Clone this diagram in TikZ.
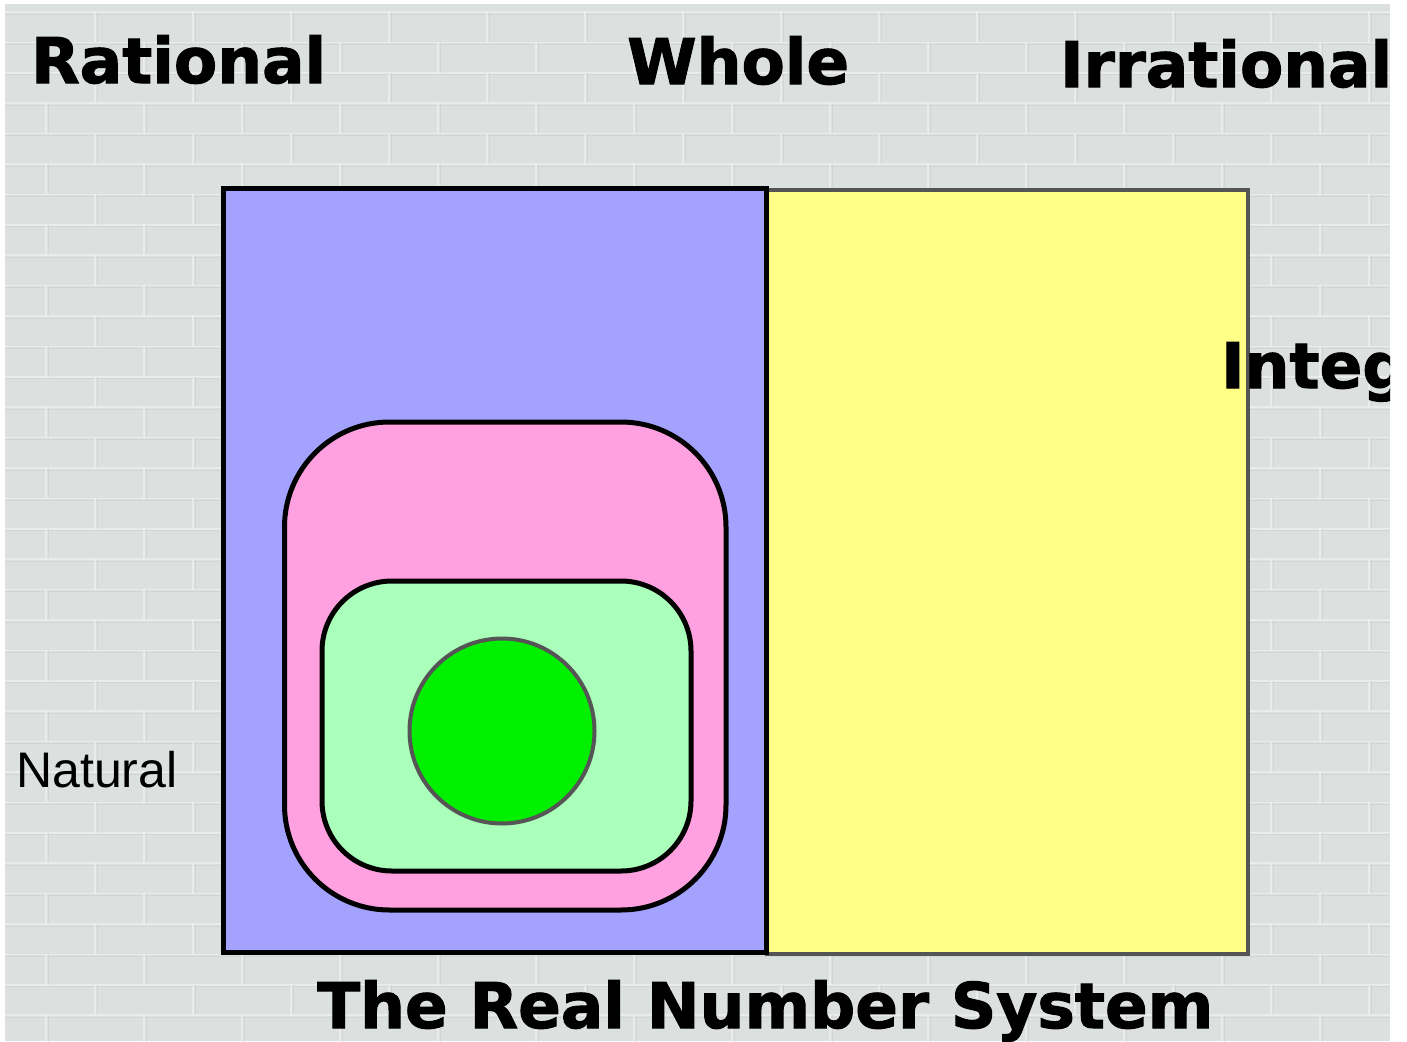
\documentclass[tikz,border=0pt]{standalone}
\usepackage{fontspec}
\newfontfamily\heavyfont{DejaVu Sans}[BoldFeatures={FakeBold=1.6}]
\newfontfamily\plainfont{Liberation Sans}
\definecolor{wallgray}{HTML}{DCE0DF}
\definecolor{mortarlight}{HTML}{F2F4F3}
\definecolor{mortardark}{HTML}{C4C8C7}
\definecolor{blu}{HTML}{A3A3FF}
\definecolor{yel}{HTML}{FFFF88}
\definecolor{pnk}{HTML}{FFA0E0}
\definecolor{lgreen}{HTML}{AAFFBB}
\definecolor{grn}{HTML}{00F000}
\definecolor{edgegray}{HTML}{555555}
\tikzset{
  headline/.style={font=\heavyfont\bfseries\fontsize{63}{70}\selectfont, inner sep=0pt, anchor=base west, text=black},
  smalllabel/.style={font=\plainfont\fontsize{50}{57}\selectfont, inner sep=0pt, anchor=base west, text=black},
  mortar/.style={draw=mortarlight, line width=1.6pt, opacity=0.6},
  mortarshade/.style={draw=mortardark, line width=0.8pt, opacity=0.4},
  region/.style={draw=black, line width=5pt},
}
\begin{document}
\begin{tikzpicture}[x=1pt,y=-1pt]
\useasboundingbox (0,0) rectangle (1407,1041);
\fill[white] (0,0) rectangle (1407,1041);
\begin{scope}
  \clip (5,4) rectangle (1390,1041);
  \fill[wallgray] (5,4) rectangle (1390,1041);
  % brick mortar lines
  \foreach \r in {0,...,34} {
    \pgfmathsetmacro\yy{12+30.4*\r}
    \pgfmathsetmacro\yb{\yy+30.4}
    \pgfmathsetmacro\off{95-49*mod(\r,2)}
    \draw[mortarshade] (5,\yy+2) -- (1390,\yy+2);
    \draw[mortar] (5,\yy) -- (1390,\yy);
    \foreach \c in {-1,...,14} {
      \pgfmathsetmacro\xx{\off+98*\c}
      \draw[mortarshade] (\xx+2,\yy) -- (\xx+2,\yb);
      \draw[mortar] (\xx,\yy) -- (\xx,\yb);
    }
  }
  % regions
  \draw[draw=edgegray, line width=4pt, fill=yel] (767,189.5) rectangle (1248,954);
  \draw[region, fill=blu] (223,188) rectangle (766.5,952);
  \draw[region, fill=pnk, rounded corners=105pt] (284.5,422) rectangle (726,910);
  \draw[region, fill=lgreen, rounded corners=70pt] (322,581) rectangle (691,871);
  \draw[draw=edgegray, line width=4pt, fill=grn] (502,731) circle (92.5pt);
  % labels
  \node[headline] (rational) at (31,83) {Rational};
  \node[headline] (whole) at (627,84) {Whole};
  \node[headline] (irrational) at (1060,87) {Irrational};
  \node[headline] (integers) at (1221,388) {Integers};
  \node[smalllabel] (natural) at (16,787) {Natural};
  \node[headline] (title) at (317,1028) {The Real Number System};
\end{scope}
\end{tikzpicture}
\end{document}
